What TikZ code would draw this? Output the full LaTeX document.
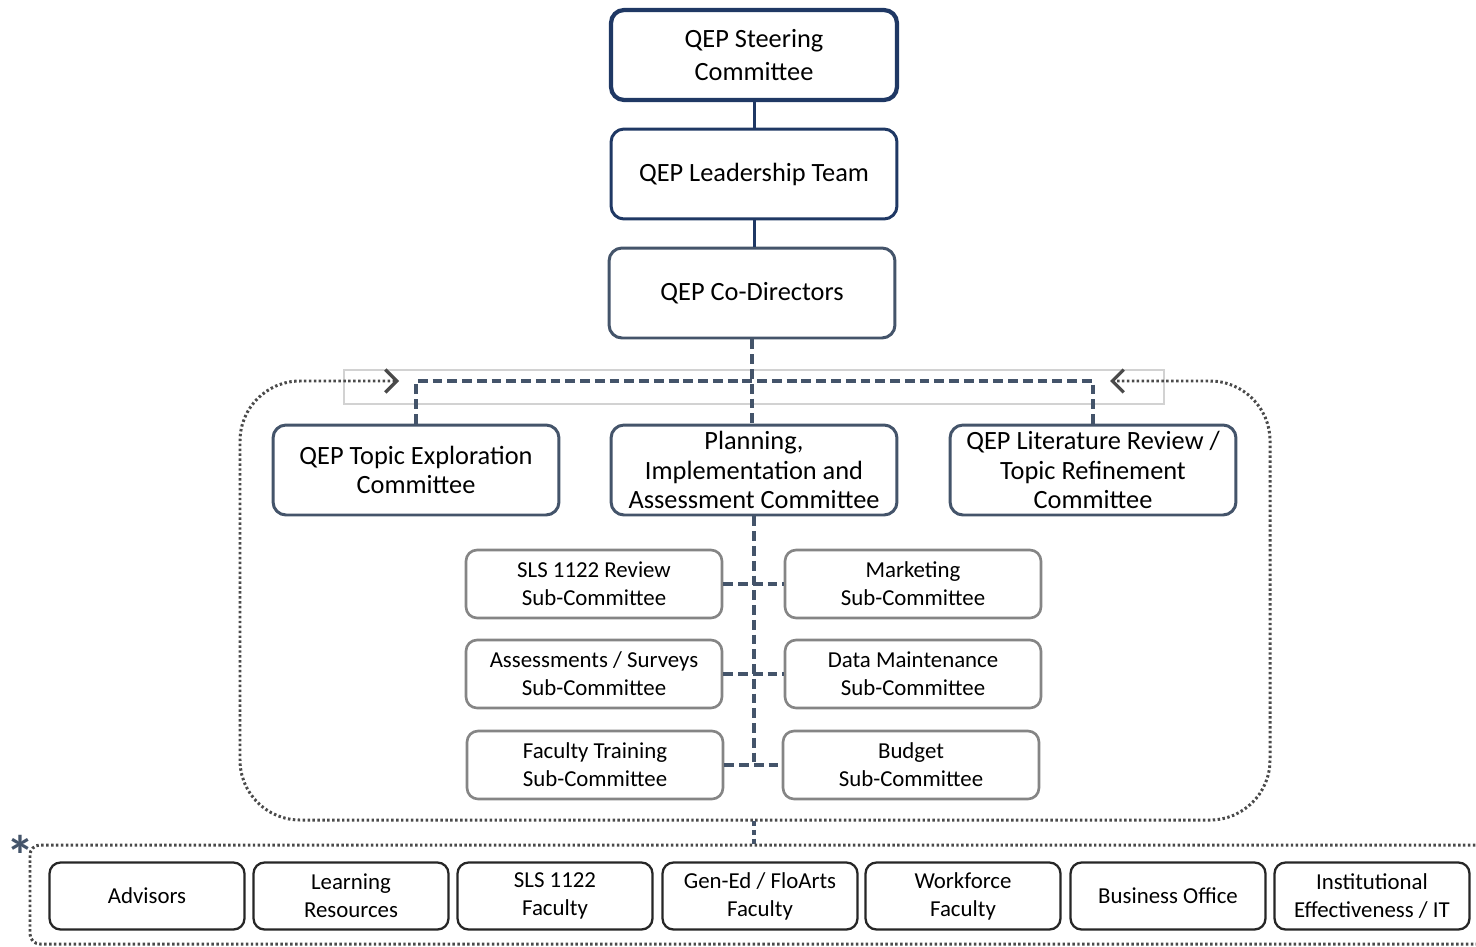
\documentclass[tikz,border=0pt]{standalone}
\usepackage{fontspec}
\setmainfont{Carlito}
\usetikzlibrary{arrows.meta}
\definecolor{qepnavy}{HTML}{1F3864}
\definecolor{qepslate}{HTML}{44546A}
\definecolor{qepgray}{HTML}{858585}
\definecolor{qepdots}{HTML}{4A4A4A}
\definecolor{qepink}{HTML}{262626}
\tikzset{
  bigbox/.style={draw=qepslate, line width=1.7pt, rounded corners=0.26cm, fill=white,
    align=center, inner sep=0pt, minimum width=5.72cm, minimum height=1.8cm,
    font=\fontsize{15}{17}\selectfont},
  subbox/.style={draw=qepgray, line width=1.5pt, rounded corners=0.22cm, fill=white,
    align=center, inner sep=0pt, minimum width=5.12cm, minimum height=1.36cm,
    font=\fontsize{13}{16}\selectfont},
  supbox/.style={draw=qepink, line width=1.3pt, rounded corners=0.22cm, fill=white,
    align=center, inner sep=0pt, minimum width=3.9cm, minimum height=1.34cm,
    font=\fontsize{13}{16}\selectfont},
  dashline/.style={draw=qepslate, line width=2pt, dash pattern=on 5.6pt off 2.8pt},
  dotline/.style={draw=qepdots, line width=1.7pt, dash pattern=on 1.4pt off 1.4pt},
  chevron/.tip={Straight Barb[length=6.5pt,width=13pt,line width=1.9pt]},
}
\begin{document}
\begin{tikzpicture}[x=0.02cm, y=-0.02cm]
\useasboundingbox (0,0) rectangle (1476,946);
% top of the chain
\node[bigbox, draw=qepnavy, line width=2.4pt, font=\fontsize{15}{19}\selectfont] (steer) at (754,55) {QEP Steering\\Committee};
\node[bigbox, draw=qepnavy] (lead) at (754,174) {QEP Leadership Team};
\node[bigbox] (codir) at (752,293) {QEP Co-Directors};
\draw[qepnavy, line width=1.7pt] (steer) -- (lead) (lead.south) -- (lead.south |- codir.north);

% committees
\draw[gray!35, line width=0.6pt] (344,370) rectangle (1164,404);
\coordinate (bus) at (752,381);
\node[bigbox] (topic) at (416,470) {QEP Topic Exploration\\Committee};
\node[bigbox] (plan) at (754,470) {Planning,\\Implementation and\\Assessment Committee};
\node[bigbox] (lit) at (1093,470) {QEP Literature Review /\\Topic Refinement\\Committee};
\draw[dashline] (codir.south) -- (bus) -- (bus |- plan.north);
\draw[dashline] (topic.north) |- (lit.north |- bus) -- (lit.north);

% sub-committees
\node[subbox] (slsrev) at (594,584) {SLS 1122 Review\\Sub-Committee};
\node[subbox] (market) at (913,584) {Marketing\\Sub-Committee};
\node[subbox] (assess) at (594,674) {Assessments / Surveys\\Sub-Committee};
\node[subbox] (datam) at (913,674) {Data Maintenance\\Sub-Committee};
\node[subbox] (train) at (595,765) {Faculty Training\\Sub-Committee};
\node[subbox] (budget) at (911,765) {Budget\\Sub-Committee};
\draw[dashline] (plan.south) -- (plan.south |- budget.west);
\draw[dashline] (slsrev) -- (market) (assess) -- (datam) (train) -- (budget);

% dotted group round the committees
\coordinate (tipL) at (399,381);
\coordinate (tipR) at (1110,381);
\draw[dotline, rounded corners=1.2cm, chevron-chevron]
  (tipL) -| (240,820) -| (1270,381) -- (tipR);

% support units
\coordinate (grpbot) at (754,821);
\coordinate (suptop) at (754,845);
\draw[dashline, dash pattern=on 3pt off 2pt] (grpbot) -- (suptop);
\draw[dotline, rounded corners=0.2cm] (1490,845) -| (30,944) -- (1490,944);
\node[text=qepslate, font=\fontsize{32}{32}\selectfont\bfseries, inner sep=0pt] (star) at (21,855) {*};
\node[supbox] (advis) at (147,896) {Advisors};
\node[supbox] (learn) at (351,896) {Learning\\Resources};
\node[supbox] (slsfac) at (555,896) {SLS 1122\\Faculty};
\node[supbox] (gened) at (760,896) {Gen-Ed / FloArts\\Faculty};
\node[supbox] (work) at (963,896) {Workforce\\Faculty};
\node[supbox] (busoff) at (1168,896) {Business Office};
\node[supbox] (instit) at (1372,896) {Institutional\\Effectiveness / IT};
\end{tikzpicture}
\end{document}
